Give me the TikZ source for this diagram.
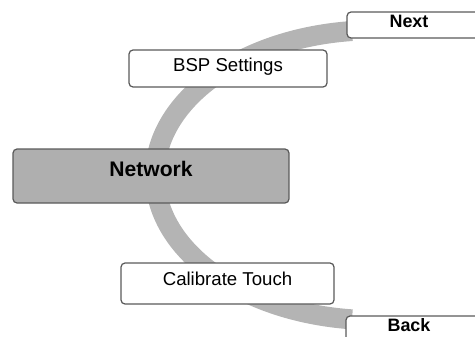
\documentclass[tikz,border=0pt]{standalone}
\usepackage{fontspec}
\setmainfont{Liberation Sans}
\definecolor{bandgray}{HTML}{B4B4B4}
\definecolor{netgray}{HTML}{AFAFAF}
\definecolor{edgegray}{HTML}{5A5A5A}
\begin{document}
\begin{tikzpicture} [x=0.02cm, y=-0.02cm,
		menubox/.style={draw=edgegray, line width=0.7pt, rounded corners=0.08cm, fill=white, inner sep=0pt, outer sep=0pt},
		band/.style={draw=bandgray, line width=0.4cm}]
		\useasboundingbox (0,0) rectangle (475,336);
		\coordinate (bandtop) at (352,31);
		\draw[band] (bandtop) arc[start angle=96, end angle=264, x radius=4.4cm, y radius=2.9cm];
		\node[menubox, minimum width=3.96cm, minimum height=0.74cm, font=\fontsize{10.6}{12}\selectfont, text height=8pt, text depth=5pt] (bsp) at (228,68.5) {BSP Settings};
		\node[menubox, fill=netgray, minimum width=5.52cm, minimum height=1.08cm, font=\fontsize{12}{14}\selectfont\bfseries, text height=8.6pt, text depth=8.5pt] (network) at (151,176) {Network};
		\node[menubox, minimum width=4.26cm, minimum height=0.82cm, font=\fontsize{10.6}{12}\selectfont, text height=8pt, text depth=6pt] (calib) at (227.5,283.5) {Calibrate Touch};
		\node[menubox, minimum width=3cm, minimum height=0.52cm, font=\fontsize{10.2}{12}\selectfont\bfseries, text height=7.3pt, text depth=4pt] (next) at (422,25) {Next\hspace*{0.52cm}};
		\node[menubox, minimum width=3cm, minimum height=0.52cm, font=\fontsize{10.2}{12}\selectfont\bfseries, text height=7.3pt, text depth=4pt] (back) at (421,329) {Back\hspace*{0.48cm}};
\end{tikzpicture}
\end{document}
